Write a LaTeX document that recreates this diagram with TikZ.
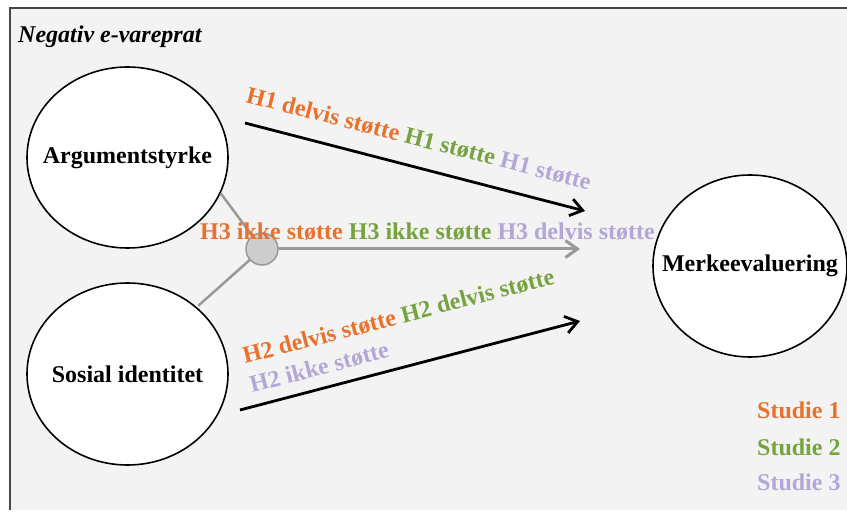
\documentclass[tikz,border=0pt]{standalone}
\usepackage{fontspec}
\setmainfont{Liberation Serif}
\usetikzlibrary{arrows.meta,shapes.geometric}
\definecolor{orangeS}{RGB}{232,114,45}
\definecolor{greenS}{RGB}{118,163,64}
\definecolor{purpleS}{RGB}{180,166,214}
\definecolor{frameBg}{RGB}{243,243,243}
\definecolor{frameLn}{RGB}{70,70,70}
\definecolor{grayLn}{RGB}{153,153,153}
\definecolor{grayFill}{RGB}{205,205,205}
\begin{document}
\begin{tikzpicture}[x=1pt,y=-1pt,
  var/.style={ellipse, draw=black, line width=1.6pt, fill=white, font=\fontsize{24}{28}\selectfont\bfseries, inner xsep=-22pt, inner ysep=0pt},
  lbl/.style={font=\fontsize{24}{28}\selectfont\bfseries, inner sep=0pt},
  leg/.style={font=\fontsize{24}{28}\selectfont\bfseries, inner sep=0pt, anchor=base west},
  blackarrow/.style={black, line width=2.8pt, -{Straight Barb[length=12pt,width=17pt,line width=2.8pt]}},
  grayarrow/.style={grayLn, line width=3pt, -{Straight Barb[length=12pt,width=17pt,line width=3pt]}},
  grayline/.style={grayLn, line width=2.5pt}]
\useasboundingbox (0,0) rectangle (847,513);
\fill[frameBg] (10,8) rectangle (847,510);
\draw[line width=1.8pt, frameLn] (10,510) -- (10,8) -- (847,8);
\node[anchor=base west, font=\fontsize{24}{28}\selectfont\bfseries\itshape, inner sep=0pt] (title) at (18,43) {Negativ e-vareprat};

\node[var, minimum width=201pt, minimum height=181pt] (A) at (127.5,157.5) {Argumentstyrke};
\node[var, minimum width=201pt, minimum height=182pt] (B) at (127.5,374) {Sosial identitet};
\node[var, minimum width=194pt, minimum height=182pt] (M) at (750,266) {Merkeevaluering};

\draw[grayline] (A.-21) -- (262,249);
\draw[grayline, shorten <=2pt] (B.44) -- (262,249);
\node[circle, fill=grayFill, draw=grayLn, line width=1.5pt, minimum size=32pt, inner sep=0pt] (S) at (262,249) {};

\coordinate (h1s) at (245,123);
\coordinate (h1e) at (585,211);
\coordinate (h3e) at (580,249);
\coordinate (h2s) at (240,410);
\coordinate (h2e) at (580,321);

\draw[grayarrow] (S) -- (h3e);
\draw[blackarrow] (h1s) -- (h1e);
\draw[blackarrow] (h2s) -- (h2e);

\node[lbl, anchor=base west, rotate=-14.35] (l1) at (245,102) {\color{orangeS}H1 delvis støtte \color{greenS}H1 støtte \color{purpleS}H1 støtte};
\node[lbl, anchor=base west] (l3) at (200,240) {\color{orangeS}H3 ikke støtte \color{greenS}H3 ikke støtte \color{purpleS}H3 delvis støtte};
\node[lbl, anchor=base west, rotate=14.5] (l2a) at (245,364) {\color{orangeS}H2 delvis støtte \color{greenS}H2 delvis støtte};
\node[lbl, anchor=base west, rotate=14.5, text=purpleS] (l2b) at (252,393) {H2 ikke støtte};

\node[leg, text=orangeS] (s1) at (757,418) {Studie 1};
\node[leg, text=greenS] (s2) at (757,455) {Studie 2};
\node[leg, text=purpleS] (s3) at (757,490) {Studie 3};
\end{tikzpicture}
\end{document}
